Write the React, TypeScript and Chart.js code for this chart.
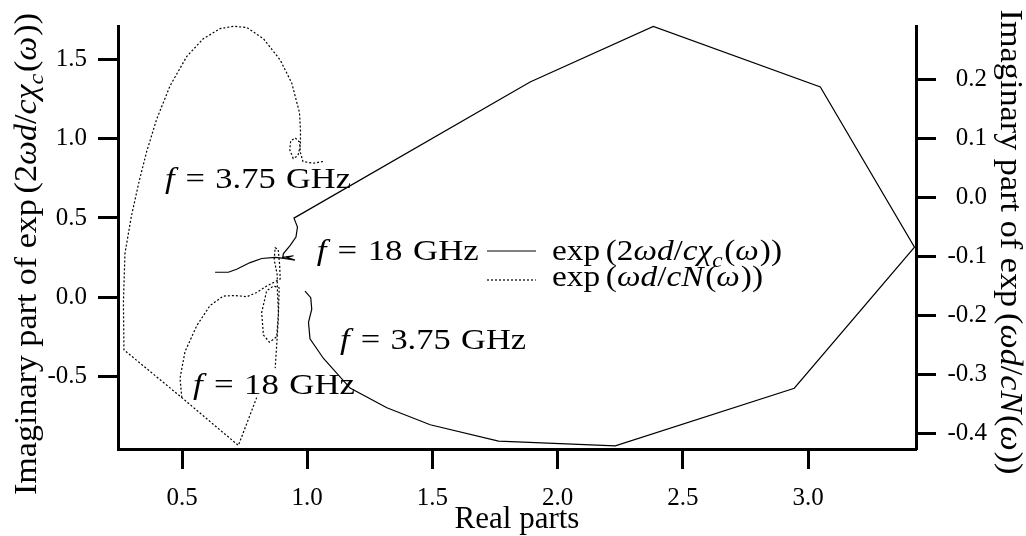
import React, { useEffect, useRef } from 'react';
import { Chart, registerables } from 'chart.js';

Chart.register(...registerables);

// Solid curve: exp(2ωd/cχc(ω)) on the left axis
const SOLID_X = [0.991, 1.014, 1.018, 1.005, 1.011, 1.065, 1.171, 1.318, 1.491, 1.764, 2.230, 2.945, 3.425, 3.049, 2.382, 1.890, 0.947, 0.961, 0.955, 0.932, 0.905, 0.902, 0.945, 0.918, 0.951, 0.908, 0.872, 0.818, 0.772, 0.718, 0.685, 0.632];
const SOLID_Y = [0.037, -0.004, -0.077, -0.160, -0.264, -0.388, -0.575, -0.699, -0.807, -0.910, -0.940, -0.576, 0.316, 1.328, 1.710, 1.359, 0.499, 0.442, 0.379, 0.327, 0.275, 0.251, 0.261, 0.251, 0.234, 0.244, 0.251, 0.244, 0.218, 0.176, 0.157, 0.157];

// Dotted curve: exp(ωd/cN(ω)) on the right axis (two visible pieces)
const DOT_A_X = [1.063, 1.023, 0.983, 0.973, 0.969, 0.952, 0.934, 0.930, 0.944, 0.963, 0.973, 0.973, 0.969, 0.938, 0.892, 0.825, 0.759, 0.705, 0.652, 0.585, 0.519, 0.452, 0.399, 0.359, 0.329, 0.298, 0.272, 0.266, 0.268, 0.499, 0.725, 0.798];
const DOT_A_Y = [0.061, 0.058, 0.061, 0.076, 0.094, 0.101, 0.096, 0.081, 0.066, 0.071, 0.089, 0.114, 0.144, 0.194, 0.233, 0.269, 0.288, 0.290, 0.286, 0.269, 0.239, 0.189, 0.133, 0.078, 0.028, -0.031, -0.095, -0.178, -0.258, -0.339, -0.420, -0.339];
const DOT_B_X = [0.499, 0.492, 0.512, 0.559, 0.612, 0.665, 0.712, 0.759, 0.798, 0.838, 0.892, 0.890, 0.884, 0.872, 0.868, 0.880, 0.881, 0.885, 0.878, 0.849, 0.825, 0.818, 0.838, 0.865, 0.888, 0.884, 0.872];
const DOT_B_Y = [-0.339, -0.306, -0.261, -0.217, -0.183, -0.167, -0.166, -0.168, -0.161, -0.150, -0.138, -0.115, -0.088, -0.085, -0.105, -0.131, -0.161, -0.195, -0.236, -0.245, -0.233, -0.195, -0.158, -0.150, -0.153, -0.211, -0.289];

const X_TICKS = [0.5, 1.0, 1.5, 2.0, 2.5, 3.0];
const LEFT_TICKS = [-0.5, 0.0, 0.5, 1.0, 1.5];
const RIGHT_TICKS = [-0.4, -0.3, -0.2, -0.1, 0.0, 0.1, 0.2];

const X_MIN = 0.2443, X_MAX = 3.431;
const L_MIN = -0.96, L_MAX = 1.713;
const R_MIN = -0.426, R_MAX = 0.2905;

// Frequency annotations (left-axis data coordinates)
const F_LABELS = ['3.75', '18', '3.75', '18'];
const F_X = [0.432, 1.038, 1.131, 0.544];
const F_Y = [0.689, 0.234, -0.326, -0.612];

const FONT = '"Liberation Serif", "Times New Roman", serif';

type Part = { t: string; it?: boolean; sub?: boolean; gap?: number };

const LEFT_LABEL: Part[] = [
  { t: 'Imaginary part of exp' }, { t: '(2', gap: 0.17 }, { t: 'ω', it: true }, { t: 'd', it: true },
  { t: '/' }, { t: 'c', it: true }, { t: 'χ', it: true }, { t: 'c', it: true, sub: true },
  { t: '(', gap: 0.05 }, { t: 'ω', it: true }, { t: '))', gap: 0.03 },
];
const RIGHT_LABEL: Part[] = [
  { t: 'Imaginary part of exp' }, { t: '(', gap: 0.17 }, { t: 'ω', it: true }, { t: 'd', it: true },
  { t: '/' }, { t: 'c', it: true }, { t: 'N', it: true },
  { t: '(', gap: 0.05 }, { t: 'ω', it: true }, { t: '))', gap: 0.03 },
];
const LEGEND_1: Part[] = [
  { t: 'exp' }, { t: '(2', gap: 0.17 }, { t: 'ω', it: true }, { t: 'd', it: true },
  { t: '/' }, { t: 'c', it: true }, { t: 'χ', it: true }, { t: 'c', it: true, sub: true },
  { t: '(', gap: 0.05 }, { t: 'ω', it: true }, { t: '))', gap: 0.03 },
];
const LEGEND_2: Part[] = [
  { t: 'exp' }, { t: '(', gap: 0.17 }, { t: 'ω', it: true }, { t: 'd', it: true },
  { t: '/' }, { t: 'c', it: true }, { t: 'N', it: true },
  { t: '(', gap: 0.05 }, { t: 'ω', it: true }, { t: '))', gap: 0.03 },
];

function fontFor(p: Part, size: number) {
  const s = p.sub ? Math.round(size * 0.7) : size;
  return `${p.it ? 'italic ' : ''}${s}px ${FONT}`;
}

function measure(ctx: CanvasRenderingContext2D, parts: Part[], size: number) {
  let w = 0;
  for (const p of parts) {
    ctx.font = fontFor(p, size);
    w += (p.gap || 0) * size + ctx.measureText(p.t).width;
  }
  return w;
}

function drawRich(ctx: CanvasRenderingContext2D, parts: Part[], size: number, x: number, y: number, align: 'left' | 'center', targetW?: number) {
  const natural = measure(ctx, parts, size);
  const sx = targetW ? targetW / natural : 1;
  ctx.save();
  ctx.translate(x, y);
  ctx.scale(sx, 1);
  ctx.textAlign = 'left';
  ctx.textBaseline = 'alphabetic';
  ctx.fillStyle = '#000';
  let cx = align === 'center' ? -natural / 2 : 0;
  for (const p of parts) {
    ctx.font = fontFor(p, size);
    cx += (p.gap || 0) * size;
    ctx.fillText(p.t, cx, p.sub ? 0.22 * size : 0);
    cx += ctx.measureText(p.t).width;
  }
  ctx.restore();
}

const freqParts = (v: string): Part[] => [
  { t: 'f', it: true }, { t: '=', gap: 0.32 }, { t: v, gap: 0.3 }, { t: 'GHz', gap: 0.3 },
];

const textPlugin = {
  id: 'texts',
  afterDraw(chart: any) {
    const ctx: CanvasRenderingContext2D = chart.ctx;
    const xs = chart.scales.x;
    const ys = chart.scales.y;
    ctx.save();
    // frequency annotations
    F_LABELS.forEach((lab, i) => {
      const px = xs.getPixelForValue(F_X[i]);
      const py = ys.getPixelForValue(F_Y[i]);
      drawRich(ctx, freqParts(lab), 30, px, py, 'left', lab.length > 2 ? 186 : 162);
    });
    // legend
    ctx.strokeStyle = '#000';
    ctx.lineWidth = 1.2;
    ctx.setLineDash([]);
    ctx.beginPath(); ctx.moveTo(487, 251); ctx.lineTo(536, 251); ctx.stroke();
    ctx.setLineDash([2, 2]);
    ctx.beginPath(); ctx.moveTo(487, 280); ctx.lineTo(536, 280); ctx.stroke();
    ctx.setLineDash([]);
    drawRich(ctx, LEGEND_1, 30, 552, 260, 'left', 230);
    drawRich(ctx, LEGEND_2, 30, 552, 286, 'left', 211);
    // x title
    drawRich(ctx, [{ t: 'Real parts' }], 31, 517, 528, 'center');
    // left title
    ctx.save();
    ctx.translate(36, 254);
    ctx.rotate(-Math.PI / 2);
    drawRich(ctx, LEFT_LABEL, 31, 0, 0, 'center', 482);
    ctx.restore();
    // right title
    ctx.save();
    ctx.translate(1001, 242);
    ctx.rotate(Math.PI / 2);
    drawRich(ctx, RIGHT_LABEL, 31, 0, 0, 'center', 465);
    ctx.restore();
    ctx.restore();
  },
};

const axisCommon = (tl: number) => ({
  grid: { display: true, drawOnChartArea: false, drawTicks: true, tickLength: tl, tickWidth: 3, tickColor: '#000' },
  border: { display: true, width: 3, color: '#000' },
});

export default function App() {
  const ref = useRef<HTMLCanvasElement>(null);
  useEffect(() => {
    document.body.style.margin = '0';
    const pts = (xs: number[], ys: number[]) => xs.map((x, i) => ({ x, y: ys[i] }));
    const tickFont = { family: FONT, size: 25 };
    const chart = new Chart(ref.current as HTMLCanvasElement, {
      type: 'scatter',
      data: {
        datasets: [
          { label: 'exp(2ωd/cχc(ω))', data: pts(SOLID_X, SOLID_Y), yAxisID: 'y', showLine: true, borderColor: '#000', borderWidth: 1.2, pointRadius: 0, tension: 0, clip: false } as any,
          { label: 'exp(ωd/cN(ω))', data: pts(DOT_A_X, DOT_A_Y), yAxisID: 'y2', showLine: true, borderColor: '#000', borderWidth: 1.2, borderDash: [2, 2], pointRadius: 0, tension: 0, clip: false } as any,
          { label: 'exp(ωd/cN(ω)) b', data: pts(DOT_B_X, DOT_B_Y), yAxisID: 'y2', showLine: true, borderColor: '#000', borderWidth: 1.2, borderDash: [2, 2], pointRadius: 0, tension: 0, clip: false } as any,
        ],
      },
      options: {
        animation: false,
        responsive: false,
        devicePixelRatio: 1,
        layout: { padding: { top: 19, left: 0, right: 39, bottom: 0 } },
        plugins: { legend: { display: false }, tooltip: { enabled: false }, title: { display: false } },
        scales: {
          x: {
            type: 'linear', position: 'bottom', min: X_MIN, max: X_MAX,
            ...axisCommon(20),
            ticks: { font: tickFont, color: '#000', padding: 14, maxRotation: 0, autoSkip: false, callback: (v: any) => Number(v).toFixed(1) },
            afterBuildTicks: (s: any) => { s.ticks = X_TICKS.map((v) => ({ value: v })); },
            afterFit: (s: any) => { s.height = 87; },
          },
          y: {
            type: 'linear', position: 'left', min: L_MIN, max: L_MAX,
            ...axisCommon(20),
            ticks: { font: tickFont, color: '#000', padding: 11, autoSkip: false, callback: (v: any) => Number(v).toFixed(1) },
            afterBuildTicks: (s: any) => { s.ticks = LEFT_TICKS.map((v) => ({ value: v })); },
            afterFit: (s: any) => { s.width = 118; },
          },
          y2: {
            type: 'linear', position: 'right', min: R_MIN, max: R_MAX,
            ...axisCommon(20),
            ticks: { font: tickFont, color: '#000', padding: 11, crossAlign: 'far', autoSkip: false, callback: (v: any) => Number(v).toFixed(1) },
            afterBuildTicks: (s: any) => { s.ticks = RIGHT_TICKS.map((v) => ({ value: v })); },
            afterFit: (s: any) => { s.width = 71; },
          },
        },
      } as any,
      plugins: [textPlugin],
    });
    return () => chart.destroy();
  }, []);
  return <canvas ref={ref} width={1026} height={536} style={{ display: 'block', width: 1026, height: 536 }} />;
}
